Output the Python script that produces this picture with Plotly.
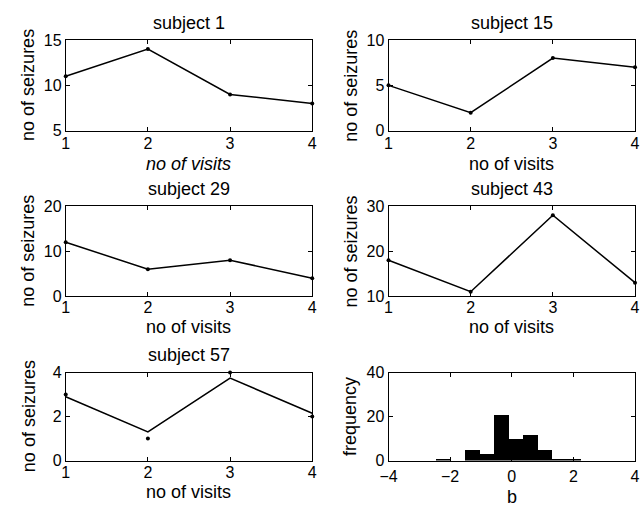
import plotly.graph_objects as go

W, H = 641, 516

visits = [1, 2, 3, 4]
subj1 = [11, 14, 9, 8]
subj15 = [5, 2, 8, 7]
subj29 = [12, 6, 8, 4]
subj43 = [18, 11, 28, 13]
subj57_obs = [3, 1, 4, 2]
subj57_fit = [2.9, 1.3, 3.75, 2.15]

b_centers = [-2.235, -1.765, -1.295, -0.825, -0.355, 0.115, 0.585, 1.055, 1.525, 1.995]
b_counts = [1, 0, 5, 3, 21, 10, 12, 5, 1, 1]
b_width = 0.47

panels = [
    dict(title="subject 1", fit=subj1, obs=subj1, yr=[5, 15], yt=[5, 10, 15]),
    dict(title="subject 15", fit=subj15, obs=subj15, yr=[0, 10], yt=[0, 5, 10]),
    dict(title="subject 29", fit=subj29, obs=subj29, yr=[0, 20], yt=[0, 10, 20]),
    dict(title="subject 43", fit=subj43, obs=subj43, yr=[10, 30], yt=[10, 20, 30]),
    dict(title="subject 57", fit=subj57_fit, obs=subj57_obs, yr=[0, 4], yt=[0, 2, 4]),
]

# pixel boxes (left, right, top, bottom)
boxes = [
    (58, 310, 33, 127), (388, 640, 33, 127),
    (58, 310, 205, 298), (388, 640, 205, 298),
    (58, 310, 377, 468), (388, 640, 377, 468),
]
standoffs = [-2, -2, -3, -3, -3, 1]
xtitle_off = [34, 34, 32, 32, 32, 38]

FONT = "Liberation Sans, Arial, Helvetica, sans-serif"
TICKF = dict(family=FONT, size=16, color="black")
LABF = dict(family=FONT, size=18, color="black")

fig = go.Figure()
layout = dict(width=W, height=H, margin=dict(l=0, r=0, t=0, b=0),
              paper_bgcolor="white", plot_bgcolor="white", showlegend=False,
              annotations=[])

def ax_common():
    return dict(showline=True, linecolor="black", linewidth=1, mirror="allticks",
                ticks="inside", ticklen=4, tickcolor="black", showgrid=False,
                zeroline=False, tickfont=TICKF)

for i, box in enumerate(boxes):
    l, r, t, b = box
    n = i + 1
    xa = "xaxis" if n == 1 else f"xaxis{n}"
    ya = "yaxis" if n == 1 else f"yaxis{n}"
    xref = "x" if n == 1 else f"x{n}"
    yref = "y" if n == 1 else f"y{n}"
    xdict = ax_common()
    ydict = ax_common()
    xdict.update(domain=[l / W, r / W], anchor=yref, ticklabelstandoff=standoffs[i])
    ydict.update(domain=[1 - b / H, 1 - t / H], anchor=xref)
    cx = (l + r) / 2
    cy = (t + b) / 2
    if i < 5:
        p = panels[i]
        xdict.update(range=[1, 4], tickvals=visits)
        ydict.update(range=p["yr"], tickvals=p["yt"])
        fig.add_trace(go.Scatter(x=visits, y=p["fit"], mode="lines",
                                 line=dict(color="black", width=1.5),
                                 xaxis=xref, yaxis=yref, cliponaxis=False))
        fig.add_trace(go.Scatter(x=visits, y=p["obs"], mode="markers",
                                 marker=dict(color="black", size=4),
                                 xaxis=xref, yaxis=yref, cliponaxis=False))
        layout["annotations"].append(dict(text=p["title"], x=cx / W, y=1 - (t - 18) / H,
                                          xref="paper", yref="paper", showarrow=False,
                                          font=LABF, xanchor="center", yanchor="middle"))
        xt = "<i>no of visits</i>" if i == 0 else "no of visits"
        layout["annotations"].append(dict(text=xt, x=cx / W, y=1 - (b + xtitle_off[i]) / H,
                                          xref="paper", yref="paper", showarrow=False,
                                          font=LABF, xanchor="center", yanchor="middle"))
        layout["annotations"].append(dict(text="no of seizures", x=(l - 38) / W, y=1 - cy / H,
                                          xref="paper", yref="paper", showarrow=False,
                                          textangle=-90, font=LABF,
                                          xanchor="center", yanchor="middle"))
    else:
        xdict.update(range=[-4, 4], tickvals=[-4, -2, 0, 2, 4])
        ydict.update(range=[0, 40], tickvals=[0, 20, 40])
        fig.add_trace(go.Bar(x=b_centers, y=b_counts, width=b_width,
                             marker=dict(color="black", line=dict(width=0)),
                             xaxis=xref, yaxis=yref))
        layout["annotations"].append(dict(text="b", x=cx / W, y=1 - (b + xtitle_off[i]) / H,
                                          xref="paper", yref="paper", showarrow=False,
                                          font=LABF, xanchor="center", yanchor="middle"))
        layout["annotations"].append(dict(text="frequency", x=(l - 40) / W, y=1 - cy / H,
                                          xref="paper", yref="paper", showarrow=False,
                                          textangle=-90, font=LABF,
                                          xanchor="center", yanchor="middle"))
    layout[xa] = xdict
    layout[ya] = ydict

layout["bargap"] = 0
fig.update_layout(**layout)
fig.write_html("out.html")
